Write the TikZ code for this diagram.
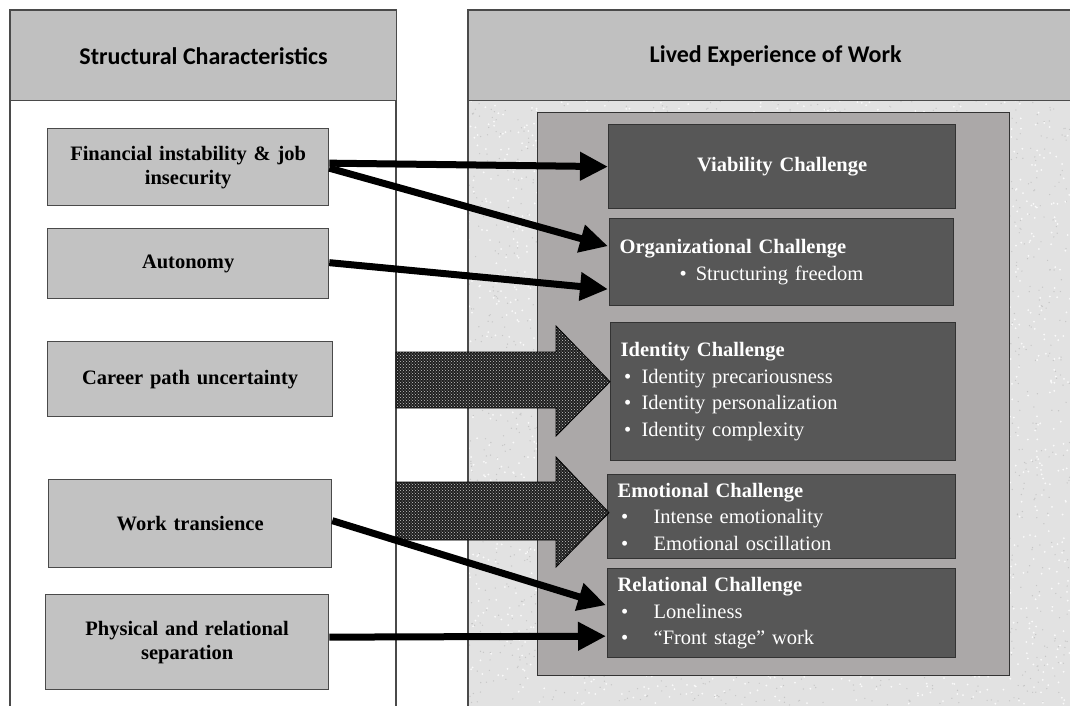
\documentclass[tikz,border=0pt]{standalone}
\usepackage{fontspec}
\setmainfont[WordSpace=0.8]{Liberation Serif}
\newfontfamily\hdrfont{Carlito}
\usetikzlibrary{arrows.meta,patterns,calc}

\definecolor{hdrgray}{HTML}{C0C0C0}
\definecolor{srcgray}{HTML}{C2C2C2}
\definecolor{framegray}{HTML}{ABA8A8}
\definecolor{chalgray}{HTML}{575757}
\definecolor{granite}{HTML}{E2E2E2}
\definecolor{edge}{HTML}{4A4A4A}

\begin{document}
\begin{tikzpicture}[x=1pt,y=-1pt,
  hdrbox/.style={draw=edge, line width=1.3pt, fill=hdrgray, anchor=north west,
    inner sep=0pt, font=\hdrfont\bfseries\fontsize{24}{28}\selectfont},
  srcbox/.style={draw=edge, line width=1.3pt, fill=srcgray, anchor=north west,
    inner sep=0pt, align=center, font=\bfseries\fontsize{20.5}{24}\selectfont},
  chalbox/.style={draw=black!80, line width=1.3pt, fill=chalgray, anchor=north west,
    inner xsep=10pt, inner ysep=0pt, align=left, text=white,
    font=\fontsize{20.5}{26.5}\selectfont},
  conn/.style={line width=7pt, draw=black, -{Triangle[length=28pt,width=27pt]}},
  blockarrow/.style={draw=black, line width=0.8pt,
    preaction={fill=black!88}, pattern=crosshatch dots, pattern color=gray!45},
]
\useasboundingbox (0,0) rectangle (1070,705);

% left column: frame and header
\draw[draw=edge, line width=1.3pt, fill=white] (10,10) rectangle (396,708);
\node[hdrbox, minimum width=386pt, minimum height=90pt] (lhead) at (10,10)
  {Structural Characteristics};

% right column: granite background, frame and header
\fill[granite] (468,10) rectangle (1072,708);
\pgfmathsetseed{11}
\foreach \i in {1,...,2600}{
  \fill[gray!45] (468+rnd*602,100+rnd*605) circle (0.7);
}
\foreach \i in {1,...,2200}{
  \fill[white!96!gray] (468+rnd*602,100+rnd*605) circle (1.0);
}
\draw[draw=edge, line width=1.3pt] (468,708) -- (468,10) -- (1072,10);
\node[hdrbox, minimum width=604pt, minimum height=90pt] (rhead) at (468,10)
  {\hspace*{10pt}Lived Experience of Work};

% container holding the challenges
\node[draw=black!80, line width=1.3pt, fill=framegray, anchor=north west,
  minimum width=472pt, minimum height=563pt, inner sep=0pt] (frame) at (537,112) {};

% structural characteristics
\node[srcbox, minimum width=281pt, minimum height=77pt, text width=275pt] (fin) at (47,128)
  {Financial instability \& job\\ insecurity};
\node[srcbox, minimum width=281pt, minimum height=70pt, text width=275pt] (aut) at (47,228)
  {Autonomy};
\node[srcbox, minimum width=285pt, minimum height=75pt, text width=275pt] (car) at (47,341)
  {Career path uncertainty};
\node[srcbox, minimum width=283pt, minimum height=88pt, text width=275pt] (wtr) at (48,479)
  {Work transience};
\node[srcbox, minimum width=283pt, minimum height=95pt, text width=275pt] (phy) at (45,594)
  {Physical and relational\\ separation};

% challenges
\node[chalbox, minimum width=347pt, minimum height=84pt, text width=327pt, align=center,
  font=\bfseries\fontsize{20.5}{24}\selectfont] (via) at (608,124)
  {Viability Challenge};
\node[chalbox, minimum width=344pt, minimum height=87pt, text width=324pt] (org) at (609,218)
  {\textbf{Organizational Challenge}\\
   \hspace*{60pt}\textbullet\hspace{9pt}Structuring freedom};
\node[chalbox, minimum width=345pt, minimum height=138pt, text width=325pt] (ide) at (610,322)
  {\textbf{Identity Challenge}\\
   \makebox[21pt][l]{\,\textbullet}Identity precariousness\\
   \makebox[21pt][l]{\,\textbullet}Identity personalization\\
   \makebox[21pt][l]{\,\textbullet}Identity complexity};
\node[chalbox, minimum width=348pt, minimum height=84pt, text width=328pt] (emo) at (607,474)
  {\textbf{Emotional Challenge}\\
   \makebox[36pt][l]{\,\textbullet}Intense emotionality\\
   \makebox[36pt][l]{\,\textbullet}Emotional oscillation};
\node[chalbox, minimum width=348pt, minimum height=89pt, text width=328pt] (rel) at (607,568)
  {\textbf{Relational Challenge}\\
   \makebox[36pt][l]{\,\textbullet}Loneliness\\
   \makebox[36pt][l]{\,\textbullet}“Front stage” work};

% broad arrows from career path uncertainty and work transience
\draw[blockarrow] (396,352) -- (556,352) -- (556,326) -- ($(ide.west)+(0,-10)$)
  -- (556,436) -- (556,408) -- (396,408) -- cycle;
\draw[blockarrow] (396,482) -- (556,482) -- (556,457) -- ($(emo.west)+(2,-4)$)
  -- (556,567) -- (556,540) -- (396,540) -- cycle;

% direct links
\draw[conn] ($(fin.east)+(0,-4)$) -- (via.west);
\draw[conn] ($(fin.east)+(0,1)$) -- ($(org.west)+(-1,-16)$);
\draw[conn] ($(aut.east)+(0,-1)$) -- ($(org.west)+(-1,27)$);
\draw[conn] ($(wtr.east)+(0,-3)$) -- ($(rel.west)+(-1,-8)$);
\draw[conn] ($(phy.east)+(0,-5)$) -- ($(rel.west)+(-1,23)$);
\end{tikzpicture}
\end{document}
